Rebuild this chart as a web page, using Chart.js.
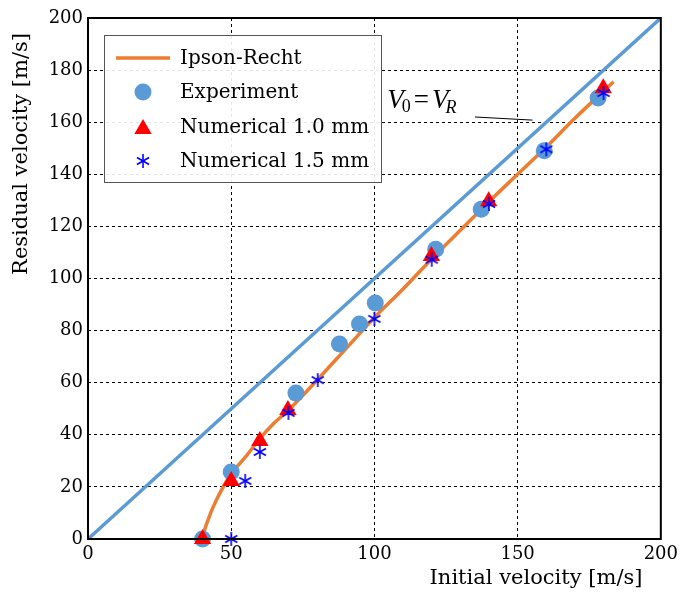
<!DOCTYPE html>
<html>
<head>
<meta charset="utf-8">
<script src="https://cdn.jsdelivr.net/npm/chart.js@4.4.0/dist/chart.umd.min.js"></script>
<style>
  html, body { margin: 0; padding: 0; background: #fff; }
  #wrap { width: 683px; height: 594px; }
</style>
</head>
<body>
<div id="wrap"><canvas id="chartVel" width="683" height="594"></canvas></div>
<script>
// Ipson-Recht fit (initial -> residual velocity, m/s)
const ipsonV0 = [40, 40.5, 41, 42, 43, 44, 46, 48, 50, 55, 60, 65, 70, 80, 90, 100, 110, 120, 130, 140, 150, 160, 170, 183.5];
const ipsonVR = [0, 2.5, 4.5, 7.5, 10.5, 13, 17.5, 21.5, 25, 31.5, 38.5, 44.5, 49.5, 61, 73, 85, 96, 107.5, 118.5, 129.5, 140, 150.5, 161.5, 175.5];

// test results
const expV0 = [40, 50, 72.6, 87.8, 94.8, 100.3, 121.4, 137.3, 159.3, 178.1];
const expVR = [0, 25.7, 56, 74.9, 82.5, 90.6, 111.2, 126.6, 149, 169.3];

// simulations, 1.0 mm mesh
const num10V0 = [40, 50, 60, 69.8, 119.9, 139.9, 179.9];
const num10VR = [0, 22.3, 37.6, 49.5, 108.6, 129.7, 173];

// simulations, 1.5 mm mesh
const num15V0 = [50, 54.9, 60, 70, 80.2, 100, 120, 140, 160, 180];
const num15VR = [0, 22.3, 33.4, 48.4, 61, 84.5, 107.2, 128.6, 149.6, 171.2];

// V0 = VR reference line
const diagV = [0, 200];

const xTicks = [0, 50, 100, 150, 200];
const yTicks = [0, 20, 40, 60, 80, 100, 120, 140, 160, 180, 200];

const legendLabels = ['Ipson-Recht', 'Experiment', 'Numerical 1.0 mm', 'Numerical 1.5 mm'];

const ORANGE = '#ED7D31';
const LBLUE = '#5B9BD5';
const RED = '#FF0000';
const BLUE = '#0000FF';
const SERIF = '"DejaVu Serif", serif';
const MATH = '"Liberation Serif", serif';

const toPts = (xs, ys) => xs.map((x, i) => ({ x: x, y: ys[i] }));

// six-armed asterisk marker
function makeAsterisk(size, color, lw) {
    const c = document.createElement('canvas');
    c.width = size; c.height = size;
    const g = c.getContext('2d');
    const r = size / 2 - 1;
    g.strokeStyle = color;
    g.lineWidth = lw;
    g.translate(size / 2, size / 2);
    for (let k = 0; k < 3; k++) {
        const ang = Math.PI / 2 + k * Math.PI / 3;
        g.beginPath();
        g.moveTo(-Math.cos(ang) * r, -Math.sin(ang) * r);
        g.lineTo(Math.cos(ang) * r, Math.sin(ang) * r);
        g.stroke();
    }
    return c;
}
const asterisk = makeAsterisk(16, BLUE, 1.6);

function drawTriangle(ctx, x, y, r) {
    ctx.beginPath();
    let rad = 0;
    ctx.moveTo(x + Math.sin(rad) * r, y - Math.cos(rad) * r);
    rad += 2 * Math.PI / 3;
    ctx.lineTo(x + Math.sin(rad) * r, y - Math.cos(rad) * r);
    rad += 2 * Math.PI / 3;
    ctx.lineTo(x + Math.sin(rad) * r, y - Math.cos(rad) * r);
    ctx.closePath();
    ctx.fill();
}

const extras = {
    id: 'extras',
    afterDatasetsDraw(chart) {
        const { ctx, chartArea: a } = chart;
        ctx.save();
        ctx.strokeStyle = '#000';
        ctx.lineWidth = 2;
        ctx.strokeRect(a.left, a.top, a.right - a.left, a.bottom - a.top);
        ctx.restore();
    },
    afterDraw(chart) {
        const { ctx, chartArea: a, scales } = chart;
        const xs = scales.x, ys = scales.y;
        ctx.save();

        // axis titles
        ctx.fillStyle = '#000';
        ctx.font = '21px ' + SERIF;
        ctx.textAlign = 'center';
        ctx.textBaseline = 'middle';
        ctx.fillText('Initial velocity [m/s]', 536, 579);
        ctx.save();
        ctx.translate(22, 154);
        ctx.rotate(-Math.PI / 2);
        ctx.fillText('Residual velocity [m/s]', 0, 0);
        ctx.restore();

        // V0 = VR label with leader line
        const tx = xs.getPixelForValue(104.5);
        const ty = ys.getPixelForValue(165.5);
        ctx.textAlign = 'left';
        ctx.textBaseline = 'alphabetic';
        let cx = tx;
        ctx.font = 'italic 27px ' + MATH;
        ctx.fillText('V', cx, ty);
        cx += ctx.measureText('V').width - 2;
        ctx.font = '18px ' + MATH;
        ctx.fillText('0', cx, ty + 4);
        cx += ctx.measureText('0').width + 3;
        ctx.font = '27px ' + MATH;
        ctx.fillText('=', cx, ty);
        cx += ctx.measureText('=').width + 3;
        ctx.font = 'italic 27px ' + MATH;
        ctx.fillText('V', cx, ty);
        cx += ctx.measureText('V').width - 3;
        ctx.font = 'italic 18px ' + MATH;
        ctx.fillText('R', cx, ty + 5);

        ctx.strokeStyle = '#000';
        ctx.lineWidth = 1;
        ctx.beginPath();
        ctx.moveTo(xs.getPixelForValue(135.1), ys.getPixelForValue(162));
        ctx.lineTo(xs.getPixelForValue(155.2), ys.getPixelForValue(160.8));
        ctx.stroke();

        // legend box
        const bx = a.left + 16, by = a.top + 17, bw = 277, bh = 147;
        ctx.fillStyle = 'rgba(255,255,255,0.9)';
        ctx.fillRect(bx, by, bw, bh);
        ctx.strokeStyle = '#555';
        ctx.lineWidth = 1;
        ctx.strokeRect(bx + 0.5, by + 0.5, bw, bh);

        const rows = [40, 74, 109, 143].map(v => a.top + v);
        const hx = a.left + 55;
        // line handle
        ctx.strokeStyle = ORANGE;
        ctx.lineWidth = 3.5;
        ctx.beginPath();
        ctx.moveTo(a.left + 28, rows[0]);
        ctx.lineTo(a.left + 82, rows[0]);
        ctx.stroke();
        // circle handle
        ctx.fillStyle = LBLUE;
        ctx.beginPath();
        ctx.arc(hx, rows[1], 8.5, 0, Math.PI * 2);
        ctx.fill();
        // triangle handle
        ctx.fillStyle = RED;
        drawTriangle(ctx, hx, rows[2] + 2, 10);
        // asterisk handle
        ctx.drawImage(asterisk, hx - asterisk.width / 2, rows[3] - asterisk.height / 2);

        ctx.fillStyle = '#000';
        ctx.font = '20px ' + SERIF;
        ctx.textAlign = 'left';
        ctx.textBaseline = 'middle';
        legendLabels.forEach((t, i) => ctx.fillText(t, a.left + 92, rows[i] + 1));
        ctx.restore();
    }
};

const ctx = document.getElementById('chartVel').getContext('2d');
new Chart(ctx, {
    type: 'scatter',
    data: {
        datasets: [
            {
                label: legendLabels[3],
                data: toPts(num15V0, num15VR),
                pointStyle: asterisk,
                pointRadius: 8,
                clip: false,
                order: 0
            },
            {
                label: legendLabels[2],
                data: toPts(num10V0, num10VR),
                pointStyle: 'triangle',
                pointRadius: 10,
                backgroundColor: RED,
                borderColor: RED,
                borderWidth: 0,
                clip: false,
                order: 1
            },
            {
                label: legendLabels[1],
                data: toPts(expV0, expVR),
                pointStyle: 'circle',
                pointRadius: 8.5,
                backgroundColor: LBLUE,
                borderColor: LBLUE,
                borderWidth: 0,
                clip: false,
                order: 2
            },
            {
                label: legendLabels[0],
                data: toPts(ipsonV0, ipsonVR),
                showLine: true,
                borderColor: ORANGE,
                borderWidth: 3.5,
                pointRadius: 0,
                cubicInterpolationMode: 'monotone',
                order: 3
            },
            {
                label: 'V0 = VR',
                data: toPts(diagV, diagV),
                showLine: true,
                borderColor: LBLUE,
                borderWidth: 3.5,
                pointRadius: 0,
                order: 4
            }
        ]
    },
    options: {
        responsive: false,
        animation: false,
        events: [],
        layout: { padding: { top: 18, right: 19, left: 0, bottom: 0 } },
        plugins: {
            legend: { display: false },
            tooltip: { enabled: false }
        },
        scales: {
            x: {
                type: 'linear',
                min: 0,
                max: 200,
                afterBuildTicks: s => { s.ticks = xTicks.map(v => ({ value: v })); },
                afterFit: s => { s.height = 55; },
                grid: { color: '#000', lineWidth: 1, drawTicks: false },
                border: { display: false, dash: [3, 3] },
                ticks: {
                    color: '#000',
                    padding: 5,
                    maxRotation: 0,
                    font: { family: SERIF, size: 18 }
                }
            },
            y: {
                type: 'linear',
                min: 0,
                max: 200,
                afterBuildTicks: s => { s.ticks = yTicks.map(v => ({ value: v })); },
                afterFit: s => { s.width = 88; },
                grid: { color: '#000', lineWidth: 1, drawTicks: false },
                border: { display: false, dash: [3, 3] },
                ticks: {
                    color: '#000',
                    padding: 5,
                    font: { family: SERIF, size: 18 }
                }
            }
        }
    },
    plugins: [extras]
});
</script>
</body>
</html>
